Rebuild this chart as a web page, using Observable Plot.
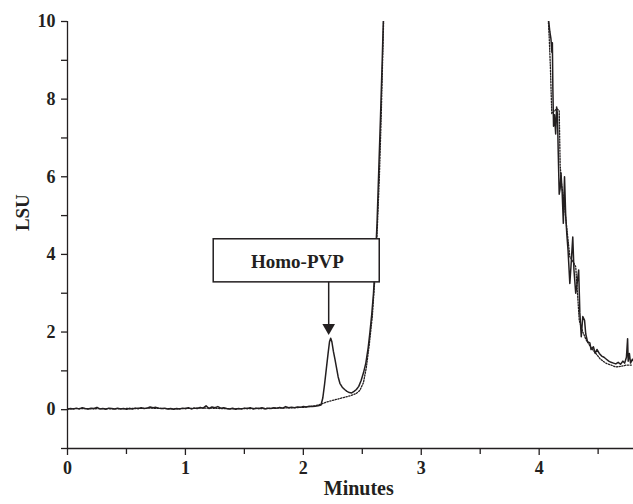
<!DOCTYPE html>
<html>
<head>
<meta charset="utf-8">
<script src="https://cdn.jsdelivr.net/npm/d3@7"></script>
<script src="https://cdn.jsdelivr.net/npm/@observablehq/plot@0.6"></script>
<style>
  html, body { margin: 0; padding: 0; background: #fff; }
  #chart { width: 633px; height: 504px; }
</style>
</head>
<body>
<div id="chart"></div>
<script>
// ---- data ----
const baseTime = [0,0.025,0.05,0.075,0.1,0.125,0.15,0.175,0.2,0.225,0.25,0.275,0.3,0.325,0.35,0.375,0.4,0.425,0.45,0.475,0.5,0.525,0.55,0.575,0.6,0.625,0.65,0.675,0.7,0.725,0.75,0.775,0.8,0.825,0.85,0.875,0.9,0.925,0.95,0.975,1.0,1.025,1.05,1.075,1.1,1.125,1.15,1.175,1.2,1.225,1.25,1.275,1.3,1.325,1.35,1.375,1.4,1.425,1.45,1.475,1.5,1.525,1.55,1.575,1.6,1.625,1.65,1.675,1.7,1.725,1.75,1.775,1.8,1.825,1.85,1.875,1.9,1.925,1.95,1.975,2.0,2.025,2.05,2.075,2.1];
const baseLSU = [0.01,0.03,0.02,0.04,0.02,0.05,0.03,0.02,0.04,0.03,0.06,0.02,0.03,0.01,0.04,0.03,0.02,0.04,0.02,0.03,0.01,0.03,0.02,0.04,0.03,0.05,0.03,0.04,0.07,0.05,0.06,0.04,0.03,0.04,0.02,0.03,0.01,0.03,0.02,0.04,0.03,0.05,0.02,0.04,0.03,0.06,0.04,0.10,0.03,0.07,0.05,0.08,0.04,0.05,0.03,0.02,0.04,0.01,0.03,0.02,0.04,0.03,0.05,0.02,0.04,0.03,0.05,0.02,0.04,0.03,0.05,0.04,0.06,0.04,0.08,0.05,0.06,0.05,0.07,0.06,0.08,0.07,0.09,0.08,0.09];

const sampleTime = [2.125,2.15,2.165,2.18,2.195,2.21,2.222,2.232,2.242,2.255,2.268,2.28,2.295,2.31,2.33,2.35,2.37,2.39,2.41,2.43,2.45,2.47,2.49,2.51,2.53,2.55,2.565,2.58,2.595,2.61,2.625,2.64,2.655,2.67,2.68,2.69,
  4.07,4.078,4.09,4.10,4.108,4.112,4.116,4.122,4.13,4.14,4.148,4.155,4.162,4.17,4.178,4.185,4.195,4.205,4.215,4.225,4.235,4.245,4.26,4.27,4.285,4.295,4.31,4.32,4.335,4.345,4.357,4.37,4.385,4.395,4.41,4.43,4.44,4.46,4.475,4.49,4.51,4.53,4.55,4.57,4.59,4.61,4.63,4.65,4.67,4.69,4.71,4.725,4.74,4.75,4.755,4.765,4.775,4.79,4.8];
const sampleLSU = [0.10,0.12,0.3,0.65,1.05,1.45,1.75,1.84,1.75,1.5,1.3,1.1,0.85,0.68,0.58,0.52,0.47,0.44,0.43,0.47,0.52,0.6,0.75,0.95,1.2,1.6,2.0,2.45,3.0,3.8,4.8,6.2,7.6,9.1,10.2,11,
  11,10.1,9.75,9.55,9.2,9.45,8.3,7.3,7.6,7.1,7.8,7.6,6.6,5.55,5.7,6.1,5.6,4.8,6.0,5.0,4.5,4.1,3.25,3.7,4.45,3.6,3.0,3.2,3.6,2.5,1.88,2.4,2.3,1.95,1.75,1.72,1.55,1.62,1.45,1.55,1.45,1.38,1.35,1.3,1.25,1.22,1.2,1.18,1.22,1.17,1.25,1.2,1.35,1.83,1.25,1.45,1.2,1.3,1.25];

const blankTime = [0,0.1,0.2,0.3,0.4,0.5,0.6,0.7,0.8,0.9,1.0,1.1,1.2,1.3,1.4,1.5,1.6,1.7,1.8,1.9,2.0,2.05,2.1,2.15,2.2,2.25,2.3,2.35,2.4,2.45,2.48,2.51,2.535,2.56,2.585,2.605,2.625,2.645,2.66,2.675,2.685,2.695,
  4.07,4.078,4.085,4.095,4.107,4.13,4.15,4.17,4.178,4.19,4.21,4.23,4.26,4.29,4.31,4.325,4.34,4.37,4.4,4.44,4.48,4.52,4.57,4.61,4.65,4.7,4.74,4.79];
const blankLSU = [0.02,0.03,0.02,0.03,0.02,0.03,0.03,0.04,0.03,0.02,0.03,0.04,0.04,0.03,0.02,0.03,0.03,0.03,0.04,0.05,0.06,0.08,0.1,0.14,0.2,0.24,0.28,0.32,0.36,0.42,0.5,0.7,1.1,1.7,2.4,3.3,4.5,6.0,7.5,9.3,10.5,11,
  11,10.0,9.6,8.84,7.63,7.7,7.75,7.7,6.3,5.8,5.4,4.8,3.94,3.8,3.68,3.0,2.3,2.0,1.79,1.6,1.45,1.3,1.19,1.15,1.1,1.12,1.15,1.15];

const xMajor = [0,1,2,3,4];
const xMinor = [0.5,1.5,2.5,3.5,4.5];
const yMajor = [0,2,4,6,8,10];
const yMinor = [-1,1,3,5,7,9];

const xTitle = "Minutes";
const yTitle = "LSU";
const labelText = "Homo-PVP";
const labelBox = [{x1: 1.24, x2: 2.648, y1: 3.28, y2: 4.39}];
const labelPos = [{x: 1.95, y: 3.80}];
const arrowPos = [{x: 2.215, y1: 3.28, y2: 2.05, tip: 1.93}];

// ---- build series ----
const solid = baseTime.map((t, i) => ({t, v: baseLSU[i]}))
  .concat(sampleTime.map((t, i) => ({t, v: sampleLSU[i]})));
const dotted = blankTime.map((t, i) => ({t, v: blankLSU[i]}));

const ink = "#231f20";

const chart = Plot.plot({
  width: 633,
  height: 504,
  marginTop: 21,
  marginBottom: 56,
  marginLeft: 67,
  marginRight: 0,
  style: {fontFamily: "'Liberation Serif', 'Times New Roman', serif", fontSize: "18px", fontWeight: "bold", color: ink, background: "#fff"},
  x: {domain: [0, 4.8]},
  y: {domain: [-1, 10]},
  marks: [
    Plot.line(dotted, {x: "t", y: "v", stroke: ink, strokeWidth: 1.3, strokeDasharray: "1.3,1.5", clip: true}),
    Plot.line(solid, {x: "t", y: "v", stroke: ink, strokeWidth: 1.5, clip: true}),
    Plot.ruleX([0], {stroke: ink, strokeWidth: 1.3}),
    Plot.ruleY([-1], {stroke: ink, strokeWidth: 1.3}),
    Plot.axisY({ticks: yMajor, tickSize: 6, tickPadding: 6, tickFormat: d => d, label: null, stroke: ink, strokeWidth: 1.3}),
    Plot.axisY({ticks: yMinor, tickSize: 6, tickFormat: () => "", label: null, stroke: ink, strokeWidth: 1.3}),
    Plot.axisX({ticks: xMajor, tickSize: 7, tickPadding: 6, tickFormat: d => d, label: null, stroke: ink, strokeWidth: 1.3}),
    Plot.axisX({ticks: xMinor, tickSize: 6, tickFormat: () => "", label: null, stroke: ink, strokeWidth: 1.3}),
    Plot.text([xTitle], {frameAnchor: "bottom", x: () => 2.47, dy: 46, fontSize: 20, fill: ink}),
    Plot.text([yTitle], {frameAnchor: "left", y: () => 4.6, dx: -45, rotate: -90, fontSize: 19, fill: ink}),
    Plot.rect(labelBox, {x1: "x1", x2: "x2", y1: "y1", y2: "y2", fill: "#fff", stroke: ink, strokeWidth: 1.5}),
    Plot.text(labelPos, {x: "x", y: "y", text: () => labelText, fontSize: 19, fill: ink}),
    Plot.ruleX(arrowPos, {x: "x", y1: "y1", y2: "y2", stroke: ink, strokeWidth: 1.5}),
    Plot.dot(arrowPos, {x: "x", y: "tip", symbol: "triangle", rotate: 180, r: 4.7, dy: -7, fill: ink, stroke: "none"})
  ]
});
document.getElementById("chart").appendChild(chart);
</script>
</body>
</html>
